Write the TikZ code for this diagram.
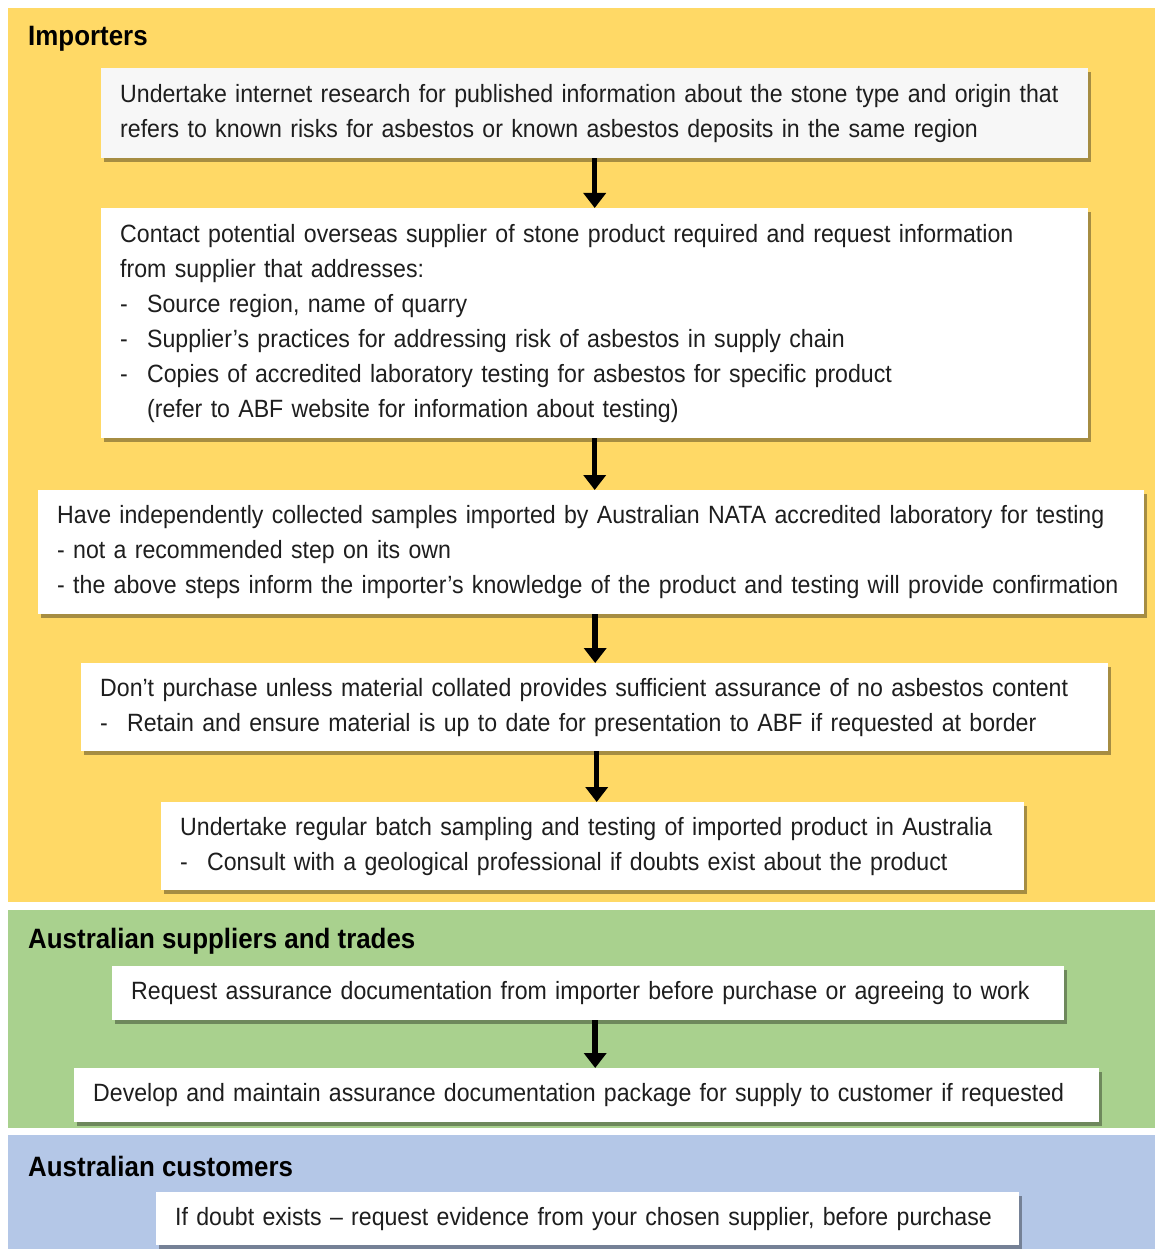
\documentclass[tikz,border=0pt]{standalone}
\usepackage{fontspec}
\setmainfont[FakeStretch=0.925]{Liberation Sans}
\usetikzlibrary{shadows,arrows.meta}
\definecolor{yel}{HTML}{FFD966}
\definecolor{grn}{HTML}{A9D18E}
\definecolor{blu}{HTML}{B4C7E7}
\definecolor{txt}{HTML}{1E1E1E}
\tikzset{
  stepbox/.style={fill=white, draw=none, anchor=north west, align=left,
    inner xsep=19pt, inner ysep=0pt, text=txt,
    font=\fontsize{25}{35}\selectfont,
    drop shadow={shadow xshift=3pt, shadow yshift=-4pt, fill=black, opacity=0.35}},
  heading/.style={anchor=west, inner sep=0pt, text=black, font=\fontsize{28}{34}\selectfont\bfseries},
  arr/.style={line width=5.5pt, -{Triangle[width=22pt,length=15pt]}, black},
}
\newcommand{\hd}[1]{\makebox[27pt][l]{-}#1}
\begin{document}
\begin{tikzpicture}[x=1pt,y=-1pt]
\useasboundingbox (0,0) rectangle (1155,1249);
\fill[white] (0,0) rectangle (1155,1249);
\fill[yel] (8,8) rectangle (1155,902);
\fill[grn] (8,910) rectangle (1155,1128);
\fill[blu] (8,1135) rectangle (1155,1249);

\node[heading] (h1) at (28,39) {Importers};
\node[heading] (h2) at (28,941) {Australian suppliers and trades};
\node[heading] (h3) at (28,1166) {Australian customers};

\node[stepbox, fill=white!97!black, text width=949pt, minimum height=90pt] (b1) at (101,68)
 {\mbox{Undertake internet research for published information about the stone type and origin that}\\
  refers to known risks for asbestos or known asbestos deposits in the same region};
\node[stepbox, text width=949pt, minimum height=230pt] (b2) at (101,208)
 {\mbox{Contact potential overseas supplier of stone product required and request information}\\
  from supplier that addresses:\\
  \hd{Source region, name of quarry}\\
  \hd{Supplier’s practices for addressing risk of asbestos in supply chain}\\
  \hd{Copies of accredited laboratory testing for asbestos for specific product}\\
  \hspace*{27pt}(refer to ABF website for information about testing)};
\node[stepbox, text width=1068pt, minimum height=124pt] (b3) at (38,490)
 {\mbox{Have independently collected samples imported by Australian NATA accredited laboratory for testing}\\
  - not a recommended step on its own\\
  \mbox{- the above steps inform the importer’s knowledge of the product and testing will provide confirmation}};
\node[stepbox, text width=989pt, minimum height=88pt] (b4) at (81,663)
 {\mbox{Don’t purchase unless material collated provides sufficient assurance of no asbestos content}\\
  \mbox{\hd{Retain and ensure material is up to date for presentation to ABF if requested at border}}};
\node[stepbox, text width=825pt, minimum height=88pt] (b5) at (161,802)
 {\mbox{Undertake regular batch sampling and testing of imported product in Australia}\\
  \mbox{\hd{Consult with a geological professional if doubts exist about the product}}};
\node[stepbox, text width=914pt, minimum height=54pt] (b6) at (112,966)
 {\mbox{Request assurance documentation from importer before purchase or agreeing to work}};
\node[stepbox, text width=987pt, minimum height=54pt] (b7) at (74,1068)
 {\mbox{Develop and maintain assurance documentation package for supply to customer if requested}};
\node[stepbox, text width=825pt, minimum height=53pt] (b8) at (156,1192)
 {\mbox{If doubt exists – request evidence from your chosen supplier, before purchase}};

\draw[arr] (b1.south) -- (b1.south |- b2.north);
\draw[arr] (b2.south) -- (b2.south |- b3.north);
\draw[arr] (b3.south) ++(4,0) coordinate (a3) -- (a3 |- b4.north);
\draw[arr] (b4.south) ++(2,0) coordinate (a4) -- (a4 |- b5.north);
\draw[arr] (b6.south) ++(7,0) coordinate (a6) -- (a6 |- b7.north);
\end{tikzpicture}
\end{document}
